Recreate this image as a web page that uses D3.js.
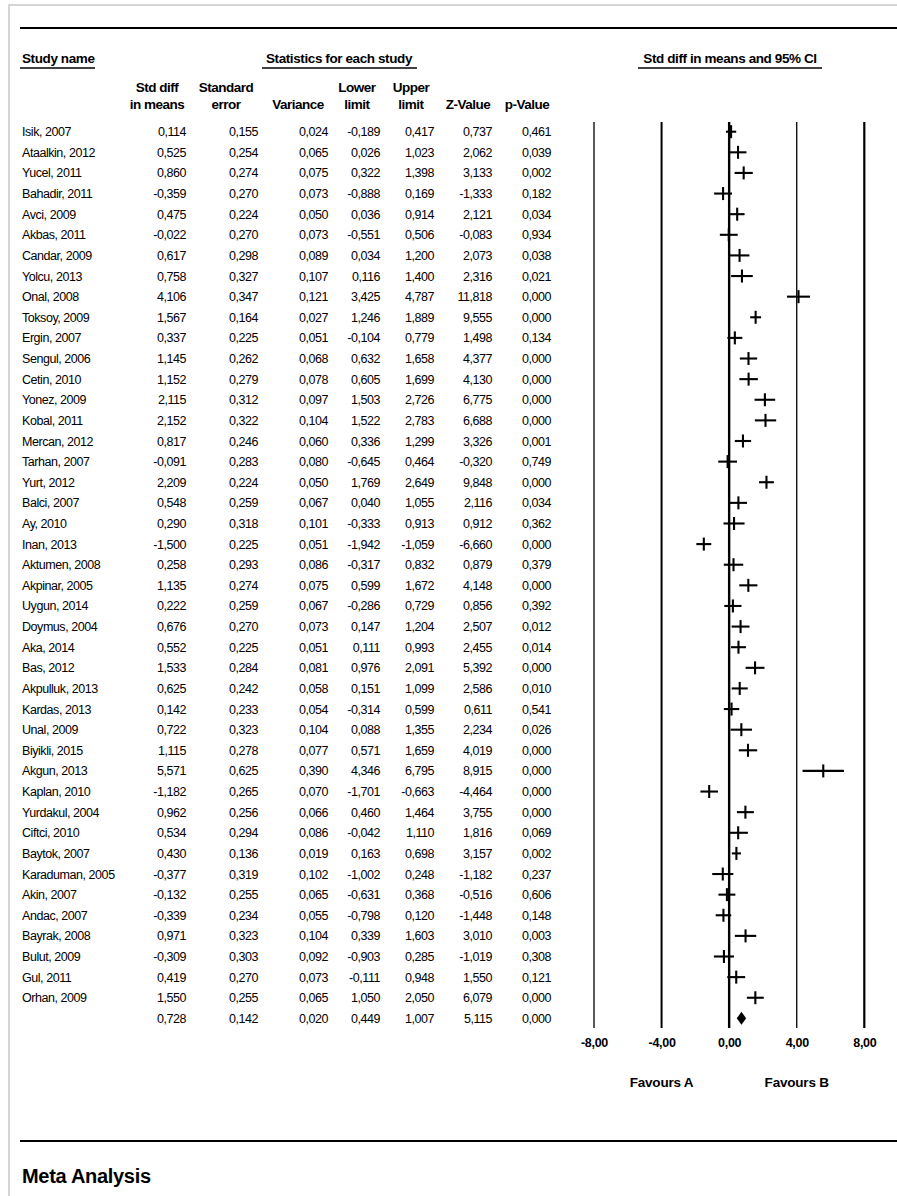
<!DOCTYPE html>
<html>
<head>
<meta charset="utf-8">
<script src="https://cdn.jsdelivr.net/npm/d3@7"></script>
<style>
  body { margin: 0; background: #fff; }
  text { font-family: "Liberation Sans", Arial, sans-serif; fill: #000; }
</style>
</head>
<body>
<script>
// study rows
var studies = ["Isik, 2007", "Ataalkin, 2012", "Yucel, 2011", "Bahadir, 2011", "Avci, 2009", "Akbas, 2011",
  "Candar, 2009", "Yolcu, 2013", "Onal, 2008", "Toksoy, 2009", "Ergin, 2007", "Sengul, 2006", "Cetin, 2010",
  "Yonez, 2009", "Kobal, 2011", "Mercan, 2012", "Tarhan, 2007", "Yurt, 2012", "Balci, 2007", "Ay, 2010",
  "Inan, 2013", "Aktumen, 2008", "Akpinar, 2005", "Uygun, 2014", "Doymus, 2004", "Aka, 2014", "Bas, 2012",
  "Akpulluk, 2013", "Kardas, 2013", "Unal, 2009", "Biyikli, 2015", "Akgun, 2013", "Kaplan, 2010",
  "Yurdakul, 2004", "Ciftci, 2010", "Baytok, 2007", "Karaduman, 2005", "Akin, 2007", "Andac, 2007",
  "Bayrak, 2008", "Bulut, 2009", "Gul, 2011", "Orhan, 2009"];
var stdDiff = [0.114, 0.525, 0.860, -0.359, 0.475, -0.022, 0.617, 0.758, 4.106, 1.567, 0.337, 1.145, 1.152,
  2.115, 2.152, 0.817, -0.091, 2.209, 0.548, 0.290, -1.500, 0.258, 1.135, 0.222, 0.676, 0.552, 1.533,
  0.625, 0.142, 0.722, 1.115, 5.571, -1.182, 0.962, 0.534, 0.430, -0.377, -0.132, -0.339, 0.971, -0.309,
  0.419, 1.550];
var stdErr = [0.155, 0.254, 0.274, 0.270, 0.224, 0.270, 0.298, 0.327, 0.347, 0.164, 0.225, 0.262, 0.279,
  0.312, 0.322, 0.246, 0.283, 0.224, 0.259, 0.318, 0.225, 0.293, 0.274, 0.259, 0.270, 0.225, 0.284,
  0.242, 0.233, 0.323, 0.278, 0.625, 0.265, 0.256, 0.294, 0.136, 0.319, 0.255, 0.234, 0.323, 0.303,
  0.270, 0.255];
var variance = [0.024, 0.065, 0.075, 0.073, 0.050, 0.073, 0.089, 0.107, 0.121, 0.027, 0.051, 0.068, 0.078,
  0.097, 0.104, 0.060, 0.080, 0.050, 0.067, 0.101, 0.051, 0.086, 0.075, 0.067, 0.073, 0.051, 0.081,
  0.058, 0.054, 0.104, 0.077, 0.390, 0.070, 0.066, 0.086, 0.019, 0.102, 0.065, 0.055, 0.104, 0.092,
  0.073, 0.065];
var lower = [-0.189, 0.026, 0.322, -0.888, 0.036, -0.551, 0.034, 0.116, 3.425, 1.246, -0.104, 0.632, 0.605,
  1.503, 1.522, 0.336, -0.645, 1.769, 0.040, -0.333, -1.942, -0.317, 0.599, -0.286, 0.147, 0.111, 0.976,
  0.151, -0.314, 0.088, 0.571, 4.346, -1.701, 0.460, -0.042, 0.163, -1.002, -0.631, -0.798, 0.339, -0.903,
  -0.111, 1.050];
var upper = [0.417, 1.023, 1.398, 0.169, 0.914, 0.506, 1.200, 1.400, 4.787, 1.889, 0.779, 1.658, 1.699,
  2.726, 2.783, 1.299, 0.464, 2.649, 1.055, 0.913, -1.059, 0.832, 1.672, 0.729, 1.204, 0.993, 2.091,
  1.099, 0.599, 1.355, 1.659, 6.795, -0.663, 1.464, 1.110, 0.698, 0.248, 0.368, 0.120, 1.603, 0.285,
  0.948, 2.050];
var zValue = [0.737, 2.062, 3.133, -1.333, 2.121, -0.083, 2.073, 2.316, 11.818, 9.555, 1.498, 4.377, 4.130,
  6.775, 6.688, 3.326, -0.320, 9.848, 2.116, 0.912, -6.660, 0.879, 4.148, 0.856, 2.507, 2.455, 5.392,
  2.586, 0.611, 2.234, 4.019, 8.915, -4.464, 3.755, 1.816, 3.157, -1.182, -0.516, -1.448, 3.010, -1.019,
  1.550, 6.079];
var pValue = [0.461, 0.039, 0.002, 0.182, 0.034, 0.934, 0.038, 0.021, 0.000, 0.000, 0.134, 0.000, 0.000,
  0.000, 0.000, 0.001, 0.749, 0.000, 0.034, 0.362, 0.000, 0.379, 0.000, 0.392, 0.012, 0.014, 0.000,
  0.010, 0.541, 0.026, 0.000, 0.000, 0.000, 0.000, 0.069, 0.002, 0.237, 0.606, 0.148, 0.003, 0.308,
  0.121, 0.000];
// pooled result
var summary = [0.728, 0.142, 0.020, 0.449, 1.007, 5.115, 0.000];
var axisTicks = [-8, -4, 0, 4, 8];

var loc = d3.formatLocale({decimal: ",", thousands: ".", grouping: [3], currency: ["", ""], minus: "-"});
var f3 = loc.format(".3f"), f2 = loc.format(".2f");

var W = 897, H = 1196;
var svg = d3.select("body").append("svg").attr("width", W).attr("height", H);

// page sheet
svg.append("rect").attr("x", 9).attr("y", 5).attr("width", W).attr("height", H)
  .attr("fill", "#fff").attr("stroke", "#c8c8c8").attr("stroke-width", 1.5);

// rows: 43 studies + summary
var y = d3.scaleLinear().domain([0, studies.length]).range([131.7, 131.7 + 20.62 * studies.length]);
// forest scale
var x = d3.scaleLinear().domain([-8, 8]).range([594, 864.3]);

svg.append("line").attr("x1", 20).attr("x2", W).attr("y1", 28).attr("y2", 28)
  .attr("stroke", "#000").attr("stroke-width", 2.2);
svg.append("line").attr("x1", 20).attr("x2", W).attr("y1", 1141).attr("y2", 1141)
  .attr("stroke", "#000").attr("stroke-width", 2.2);

svg.append("text").attr("x", 22).attr("y", 1183).text("Meta Analysis")
  .style("font-size", "20px").style("font-weight", "bold").style("letter-spacing", "-0.3px");

// group headers with underlines
var groups = [
  {t: "Study name", x: 22, anchor: "start", x1: 20, x2: 95},
  {t: "Statistics for each study", x: 339, anchor: "middle", x1: 262, x2: 417},
  {t: "Std diff in means and 95% CI", x: 730, anchor: "middle", x1: 638, x2: 822}
];
groups.forEach(function(g) {
  svg.append("text").attr("x", g.x).attr("y", 63).attr("text-anchor", g.anchor).text(g.t)
    .style("font-size", "13.5px").style("font-weight", "bold").style("letter-spacing", "-0.4px");
  svg.append("line").attr("x1", g.x1).attr("x2", g.x2).attr("y1", 68).attr("y2", 68)
    .attr("stroke", "#000").attr("stroke-width", 1.3);
});

// column definitions
var cols = [
  {h1: "Std diff", h2: "in means", hx: 157, right: 186, vals: stdDiff},
  {h1: "Standard", h2: "error", hx: 226, right: 258, vals: stdErr},
  {h1: "", h2: "Variance", hx: 298, right: 328, vals: variance},
  {h1: "Lower", h2: "limit", hx: 357, right: 380, vals: lower},
  {h1: "Upper", h2: "limit", hx: 411, right: 434, vals: upper},
  {h1: "", h2: "Z-Value", hx: 468, right: 492, vals: zValue},
  {h1: "", h2: "p-Value", hx: 527, right: 551, vals: pValue}
];

cols.forEach(function(c, ci) {
  [c.h1, c.h2].forEach(function(h, k) {
    svg.append("text").attr("x", c.hx).attr("y", 92 + k * 17).attr("text-anchor", "middle").text(h)
      .style("font-size", "13.5px").style("font-weight", "bold").style("letter-spacing", "-0.5px");
  });
  var rows = c.vals.concat([summary[ci]]);
  svg.append("g").selectAll("text").data(rows).join("text")
    .attr("x", c.right)
    .attr("y", function(d, i) { return y(i) + 4.5; })
    .attr("text-anchor", "end")
    .style("font-size", "12.5px").style("letter-spacing", "-0.45px")
    .text(function(d) { return f3(d); });
});

svg.append("g").selectAll("text").data(studies).join("text")
  .attr("x", 22)
  .attr("y", function(d, i) { return y(i) + 4.5; })
  .style("font-size", "12.5px").style("letter-spacing", "-0.45px")
  .text(function(d) { return d; });

// reference lines of the forest plot
var lineW = {"-8": 1.3, "-4": 2, "0": 2.4, "4": 1.3, "8": 2.2};
svg.append("g").selectAll("line").data(axisTicks).join("line")
  .attr("x1", function(d) { return x(d); }).attr("x2", function(d) { return x(d); })
  .attr("y1", 122).attr("y2", 1028)
  .attr("stroke", "#000")
  .attr("stroke-width", function(d) { return lineW[d]; });

// axis labels
var ax = svg.append("g").attr("transform", "translate(0,1035)")
  .call(d3.axisBottom(x).tickValues(axisTicks).tickSize(0).tickFormat(function(d) { return f2(d); }));
ax.select(".domain").remove();
ax.selectAll("text").attr("y", 3)
  .style("font-family", "'Liberation Sans', Arial, sans-serif")
  .style("font-size", "12.5px").style("font-weight", "bold").style("letter-spacing", "-0.3px");

svg.append("text").attr("x", x(-4)).attr("y", 1087).attr("text-anchor", "middle").text("Favours A")
  .style("font-size", "13.5px").style("font-weight", "bold").style("letter-spacing", "-0.2px");
svg.append("text").attr("x", x(4)).attr("y", 1087).attr("text-anchor", "middle").text("Favours B")
  .style("font-size", "13.5px").style("font-weight", "bold").style("letter-spacing", "-0.2px");

// study crosses
var marks = svg.append("g").attr("stroke", "#000").attr("stroke-width", 2.1);
studies.forEach(function(s, i) {
  marks.append("line").attr("x1", x(lower[i])).attr("x2", x(upper[i]))
    .attr("y1", y(i)).attr("y2", y(i));
  marks.append("line").attr("x1", x(stdDiff[i])).attr("x2", x(stdDiff[i]))
    .attr("y1", y(i) - 6.5).attr("y2", y(i) + 6.5);
});

// pooled diamond
var ys = y(studies.length);
svg.append("path")
  .attr("d", "M" + x(summary[3]) + "," + ys + "L" + x(summary[0]) + "," + (ys - 6.5) +
    "L" + x(summary[4]) + "," + ys + "L" + x(summary[0]) + "," + (ys + 6.5) + "Z")
  .attr("fill", "#000");
</script>
</body>
</html>
